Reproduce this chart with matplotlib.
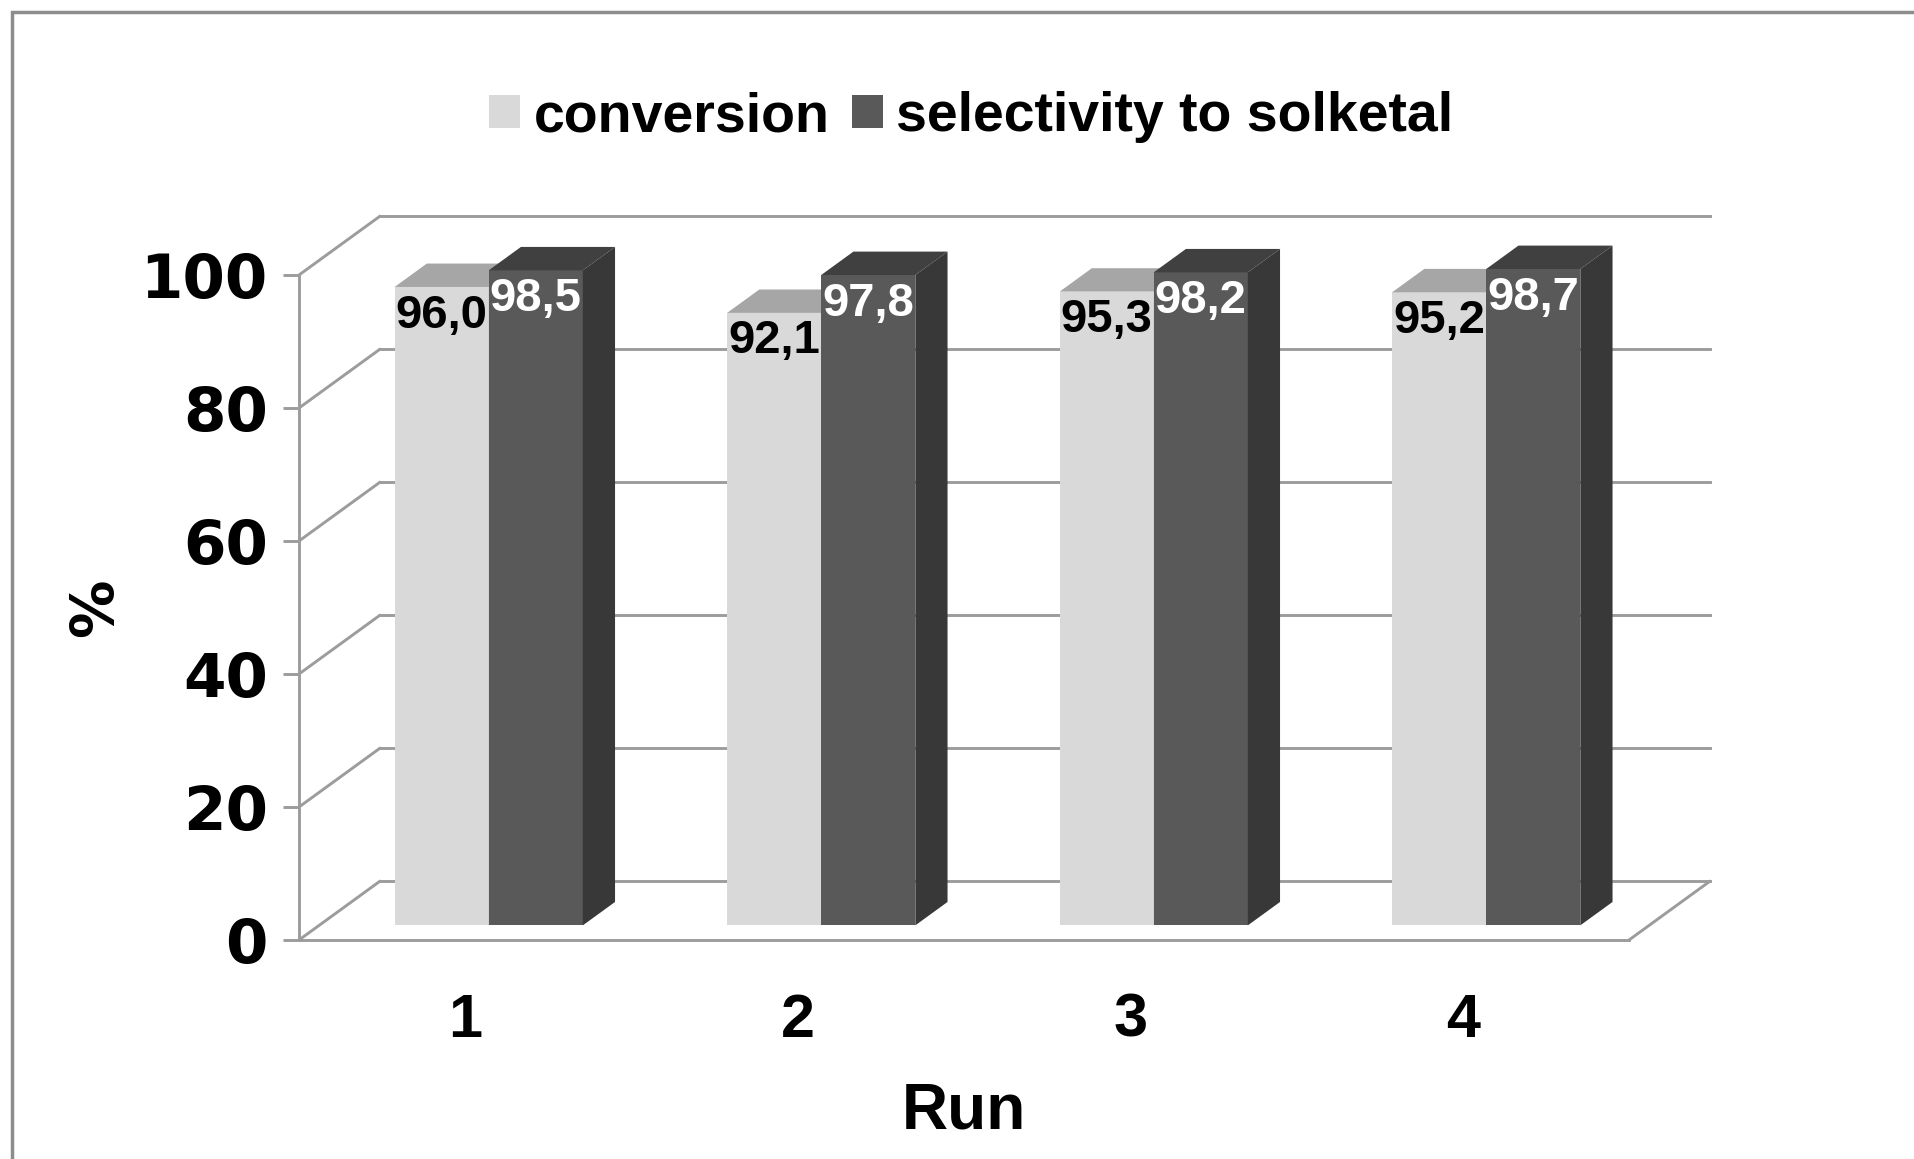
import matplotlib
matplotlib.use('Agg')
import matplotlib.pyplot as plt
from matplotlib.patches import Polygon, Rectangle
import numpy as np

runs = ['1', '2', '3', '4']
conversion = [96.0, 92.1, 95.3, 95.2]
selectivity = [98.5, 97.8, 98.2, 98.7]
conv_labels = ['96,0', '92,1', '95,3', '95,2']
sel_labels = ['98,5', '97,8', '98,2', '98,7']
yticks = [0, 20, 40, 60, 80, 100]
series_names = ['conversion', 'selectivity to solketal']

plt.rcParams['font.family'] = ['Liberation Sans', 'DejaVu Sans']

W_PX, H_PX = 1914, 1159
fig = plt.figure(figsize=(W_PX / 100, H_PX / 100), dpi=100)
fig.patch.set_facecolor('white')
ax = fig.add_axes([299 / W_PX, 219 / H_PX, 1330 / W_PX, 665 / H_PX])
ax.set_xlim(0, 4)
ax.set_ylim(0, 100)
ax.patch.set_alpha(0)

DX, DY = 0.2423, 8.8      # depth offset of the back wall (data units)
D0, D1 = 0.25, 0.65       # bar depth range (fraction of full depth)
W = 0.283                 # bar width
GRID = '#9C9C9C'
LW = 2.1

# back wall gridlines and side diagonals
for v in yticks:
    ax.plot([0, DX], [v, v + DY], color=GRID, lw=LW, clip_on=False, zorder=1)
    ax.plot([DX, 4 + DX], [v + DY, v + DY], color=GRID, lw=LW, clip_on=False, zorder=1)
# floor right edge
ax.plot([4, 4 + DX], [0, DY], color=GRID, lw=LW, clip_on=False, zorder=1)

x = np.arange(len(runs))
cx = x + 0.51
sx, sy = D0 * DX, D0 * DY
bx, by = (D1 - D0) * DX, (D1 - D0) * DY

series = [
    (conversion, conv_labels, cx - W, '#D9D9D9', '#A6A6A6', '#BFBFBF', 'black'),
    (selectivity, sel_labels, cx, '#595959', '#404040', '#383838', 'white'),
]
for vals, labs, left, cfront, ctop, cside, ctext in series:
    ax.bar(left + sx, vals, width=W, bottom=sy, align='edge', color=cfront,
           clip_on=False, zorder=3, linewidth=0)
    for l, v in zip(left, vals):
        xl = l + sx
        xr = xl + W
        yt = v + sy
        ax.add_patch(Polygon([(xl, yt), (xr, yt), (xr + bx, yt + by), (xl + bx, yt + by)],
                             closed=True, fc=ctop, ec='none', clip_on=False, zorder=3))
        ax.add_patch(Polygon([(xr, sy), (xr + bx, sy + by), (xr + bx, yt + by), (xr, yt)],
                             closed=True, fc=cside, ec='none', clip_on=False, zorder=3))

for vals, labs, left, cfront, ctop, cside, ctext in series:
    for l, v, t in zip(left, vals, labs):
        ax.text(l + sx + W / 2, v + sy - 4.3, t, ha='center', va='center',
                fontsize=34, fontweight='bold', color=ctext, zorder=6, clip_on=False)

# axes, ticks
for s in ['top', 'right']:
    ax.spines[s].set_visible(False)
for s in ['left', 'bottom']:
    ax.spines[s].set_color(GRID)
    ax.spines[s].set_linewidth(LW)
    ax.spines[s].set_zorder(2)

ax.set_yticks(yticks)
ax.set_yticklabels([str(t) for t in yticks], fontsize=44, fontweight='bold',
                   family=['DejaVu Sans'])
ax.tick_params(axis='y', length=11.5, width=LW, color=GRID, pad=11)
ax.set_xticks(x + 0.5)
ax.set_xticklabels(runs, fontsize=44, fontweight='bold')
ax.tick_params(axis='x', length=0, pad=38)

ax.set_xlabel('Run', fontsize=46, fontweight='bold', va='center')
ax.xaxis.set_label_coords(0.5, -0.258)
ax.set_ylabel('%', fontsize=42, fontweight='bold', va='center', ha='center',
              family=['DejaVu Sans'])
ax.yaxis.set_label_coords(-0.153, 0.500)

handles = [Rectangle((0, 0), 1, 1, fc='#D9D9D9', ec='none'),
           Rectangle((0, 0), 1, 1, fc='#595959', ec='none')]
fig.legend(handles, series_names, loc='center',
           bbox_to_anchor=(971.5 / W_PX, 1 - 117 / H_PX), ncol=2, frameon=False,
           prop=dict(size=40, weight='bold'), handlelength=0.55, handleheight=0.55,
           handletextpad=0.25, columnspacing=0.4, borderpad=0)

fig.add_artist(Rectangle((12 / W_PX, -0.1), 1.2, 1 - 12 / H_PX + 0.1,
                         transform=fig.transFigure, fill=False, ec='#8C8C8C', lw=2.5))

fig.savefig('out.png', dpi=100)
